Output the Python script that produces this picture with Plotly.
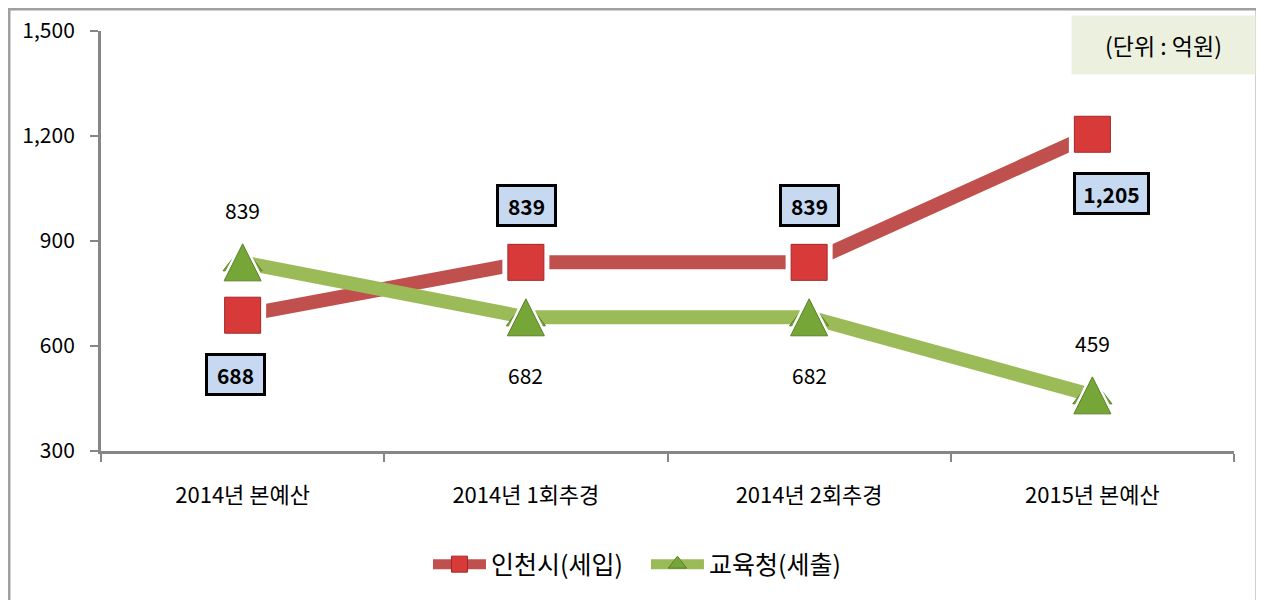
import plotly.graph_objects as go

categories = ["2014년 본예산", "2014년 1회추경", "2014년 2회추경", "2015년 본예산"]
incheon = [688, 839, 839, 1205]
edu = [839, 682, 682, 459]
incheon_label_pos = ["below", "above", "above", "below"]
edu_label_pos = ["above", "below", "below", "above"]
incheon_label_dx = [-7, 1, 0, 19]
y_ticks = [300, 600, 900, 1200, 1500]

FONT = "Noto Sans CJK KR"
RED_LINE = "#C0504D"
GREEN_LINE = "#9BBB59"
AXIS = "#868686"

def tri(size, color, line_color=None):
    # centred isosceles triangle: rotated arrow shifted back by half its height
    d = dict(symbol="arrow-down", angle=180, standoff=size / 2, size=size, color=color)
    if line_color:
        d["line"] = dict(color=line_color, width=1)
    return d

fig = go.Figure()

fig.add_trace(go.Scatter(x=categories, y=incheon, name="인천시(세입)", mode="lines+markers",
                         line=dict(color=RED_LINE, width=14),
                         marker=dict(symbol="square", size=34, color="#D83A3A",
                                     line=dict(color="#A02828", width=1))))
fig.add_trace(go.Scatter(x=categories, y=edu, name="교육청(세출)", mode="lines+markers",
                         line=dict(color=GREEN_LINE, width=14),
                         marker=dict(symbol="triangle-up", size=34, color="#76A538",
                                     line=dict(color="#5A8228", width=1))))
# white halo to leave gap between line and marker
fig.add_trace(go.Scatter(x=categories, y=incheon, mode="markers", showlegend=False, hoverinfo="skip",
                         marker=dict(symbol="square", size=47, color="white")))
fig.add_trace(go.Scatter(x=categories, y=edu, mode="markers", showlegend=False, hoverinfo="skip",
                         marker=tri(50, "white")))
fig.add_trace(go.Scatter(x=categories, y=incheon, mode="markers", showlegend=False,
                         marker=dict(symbol="square", size=36, color="#D83A3A",
                                     line=dict(color="#A02828", width=1))))
fig.add_trace(go.Scatter(x=categories, y=edu, mode="markers", showlegend=False,
                         marker=tri(37, "#76A538", "#5A8228")))

annotations = []
for c, v, p, dx in zip(categories, incheon, incheon_label_pos, incheon_label_dx):
    txt = f"{v:,}"
    n_dig = sum(ch.isdigit() for ch in txt)
    annotations.append(dict(x=c, y=v, xref="x", yref="y", text=f"<b>{txt}</b>", showarrow=False,
                            yshift=(-59 if p == "below" else 57), xshift=dx,
                            font=dict(family=FONT, size=21, color="black"),
                            bgcolor="#C6D9F1", bordercolor="black", borderwidth=3, borderpad=2,
                            width=12 * n_dig + 4 * (len(txt) - n_dig) + 15, height=33))
for c, v, p in zip(categories, edu, edu_label_pos):
    annotations.append(dict(x=c, y=v, xref="x", yref="y", text=f"{v:,}", showarrow=False,
                            yshift=(-58 if p == "below" else 52),
                            font=dict(family=FONT, size=21, color="black")))
annotations.append(dict(x=0.9378, y=0.9668, xref="paper", yref="paper", text="(단위 : 억원)",
                        xanchor="center", yanchor="middle",
                        showarrow=False, bgcolor="#EBF1DE", width=181, height=56,
                        font=dict(family=FONT, size=23, color="black")))

fig.update_layout(
    width=1256, height=592,
    margin=dict(l=93, r=30, t=23, b=147),
    paper_bgcolor="white", plot_bgcolor="white",
    font=dict(family=FONT, color="black"),
    showlegend=True,
    legend=dict(orientation="h", x=0.481, xanchor="center", y=-0.27, yanchor="middle",
                font=dict(family=FONT, size=25, color="black"), itemwidth=53,
                entrywidth=150, tracegroupgap=0),
    annotations=annotations,
    shapes=[dict(type="rect", xref="paper", yref="paper", x0=-0.0812, x1=1.0203,
                 y0=-0.5, y1=1.0521, line=dict(color="#A0A0A0", width=3))],
)
fig.update_xaxes(type="category", range=[-0.5, 3.5], showline=True, linecolor=AXIS, linewidth=3,
                 ticks="outside", tickson="boundaries", ticklen=8, tickwidth=2, tickcolor=AXIS,
                 showgrid=False, zeroline=False, ticklabelstandoff=23, automargin=False,
                 tickfont=dict(family=FONT, size=22, color="black"))
fig.update_yaxes(range=[300, 1500], tickvals=y_ticks, tickformat=",", showline=True, linecolor=AXIS,
                 linewidth=3, ticks="outside", ticklen=8, tickwidth=2, tickcolor=AXIS,
                 showgrid=False, zeroline=False, ticklabelstandoff=11, automargin=False,
                 tickfont=dict(family=FONT, size=21, color="black"))

fig.write_html("out.html")
